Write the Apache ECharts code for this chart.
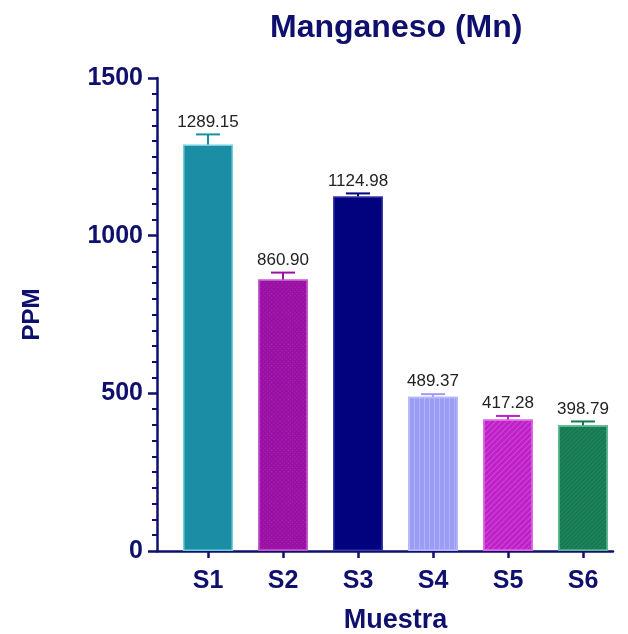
<!DOCTYPE html>
<html>
<head>
<meta charset="utf-8">
<script src="https://cdn.jsdelivr.net/npm/echarts@6/dist/echarts.min.js"></script>
<style>
  html, body { margin: 0; padding: 0; background: #fff; }
  #chart { width: 628px; height: 634px; }
</style>
</head>
<body>
<div id="chart"></div>
<script>
// 数据
const categories = ['S1', 'S2', 'S3', 'S4', 'S5', 'S6']
const values = [1289.15, 860.90, 1124.98, 489.37, 417.28, 398.79]
const errors = [32, 22, 9, 8, 11, 12]
const yTicks = [0, 500, 1000, 1500]

const navy = '#0f0f6e'
const fills = ['#1b8ea6', '#9a10a4', '#02027f', '#9b9cf6', '#c020c9', '#137a52']
const borders = ['#74cfdc', '#c25ccb', '#3a3aa8', '#b7b8fb', '#dc6ae0', '#5fb890']
const decals = [
  null,
  { symbol: 'rect', dashArrayX: [1, 2], dashArrayY: [1, 2], rotation: Math.PI / 4, color: 'rgba(255,255,255,0.12)' },
  null,
  { symbol: 'rect', dashArrayX: [1, 0], dashArrayY: [1, 4], rotation: Math.PI / 2, color: 'rgba(255,255,255,0.22)' },
  { symbol: 'rect', dashArrayX: [1, 0], dashArrayY: [1, 3], rotation: -Math.PI / 4, color: 'rgba(255,255,255,0.18)' },
  { symbol: 'rect', dashArrayX: [1, 0], dashArrayY: [1, 2], rotation: -Math.PI / 4, color: 'rgba(255,255,255,0.08)' }
]

const chart = echarts.init(document.getElementById('chart'), null, { renderer: 'canvas' })

const barData = values.map((v, i) => ({
  value: v,
  itemStyle: {
    color: fills[i],
    borderColor: borders[i],
    borderWidth: 1.5,
    decal: decals[i] || undefined
  }
}))

const errData = values.map((v, i) => [i, v, errors[i]])

const option = {
  backgroundColor: '#fff',
  animation: false,
  title: {
    text: 'Manganeso (Mn)',
    left: 265,
    top: 7,
    textStyle: { fontFamily: 'Liberation Sans', fontWeight: 'bold', fontSize: 32, color: navy }
  },
  // v6 默认会按外边界收缩 grid，这里关掉以保持两套 grid 对齐
  grid: [
    { left: 157, right: 15, top: 78, bottom: 83, outerBoundsMode: 'none' },
    { left: 170.5, width: 450, top: 78, bottom: 83, outerBoundsMode: 'none' }
  ],
  xAxis: [
    {
      type: 'value', gridIndex: 0, min: 0, max: 1,
      axisLine: { show: true, lineStyle: { color: navy, width: 2.5 } },
      axisTick: { show: false }, axisLabel: { show: false }, splitLine: { show: false }
    },
    {
      type: 'category', gridIndex: 1, data: categories,
      axisLine: { show: false },
      axisTick: { show: true, alignWithLabel: true, length: 7, lineStyle: { color: navy, width: 2.5 } },
      axisLabel: { margin: 18, fontFamily: 'Liberation Sans', fontWeight: 'bold', fontSize: 25, color: navy },
      name: 'Muestra', nameLocation: 'middle', nameGap: 56,
      nameTextStyle: { fontFamily: 'Liberation Sans', fontWeight: 'bold', fontSize: 27, color: navy }
    }
  ],
  yAxis: [
    {
      type: 'value', gridIndex: 0, min: yTicks[0], max: yTicks[yTicks.length - 1], interval: 500,
      axisLine: { show: true, lineStyle: { color: navy, width: 2.5 } },
      axisTick: { show: true, length: 9, lineStyle: { color: navy, width: 2.5 } },
      minorTick: { show: true, splitNumber: 10, length: 5, lineStyle: { color: navy, width: 2 } },
      axisLabel: {
        margin: 14, fontFamily: 'Liberation Sans', fontWeight: 'bold', fontSize: 25, color: navy,
        formatter: v => String(v)
      },
      splitLine: { show: false },
      name: 'PPM', nameLocation: 'middle', nameGap: 113, nameRotate: 90,
      nameTextStyle: { fontFamily: 'Liberation Sans', fontWeight: 'bold', fontSize: 24, color: navy }
    },
    {
      type: 'value', gridIndex: 1, min: 0, max: 1500, show: false
    }
  ],
  series: [
    {
      type: 'bar', xAxisIndex: 1, yAxisIndex: 1,
      barWidth: 50,
      data: barData
    },
    {
      type: 'custom', xAxisIndex: 1, yAxisIndex: 1,
      data: errData,
      z: 3,
      renderItem(params, api) {
        const i = api.value(0)
        const v = api.value(1)
        const e = api.value(2)
        const base = api.coord([i, v])
        const top = api.coord([i, v + e])
        const half = 12
        const color = fills[params.dataIndex]
        return {
          type: 'group',
          children: [
            { type: 'line', shape: { x1: base[0], y1: base[1], x2: top[0], y2: top[1] }, style: { stroke: color, lineWidth: 2 } },
            { type: 'line', shape: { x1: top[0] - half, y1: top[1], x2: top[0] + half, y2: top[1] }, style: { stroke: color, lineWidth: 2 } },
            {
              type: 'text',
              style: {
                x: top[0], y: top[1] - 4,
                text: v.toFixed(2),
                textAlign: 'center', textVerticalAlign: 'bottom',
                fontFamily: 'Liberation Sans', fontSize: 17, fill: '#222'
              }
            }
          ]
        }
      }
    }
  ]
}

chart.setOption(option)
</script>
</body>
</html>
